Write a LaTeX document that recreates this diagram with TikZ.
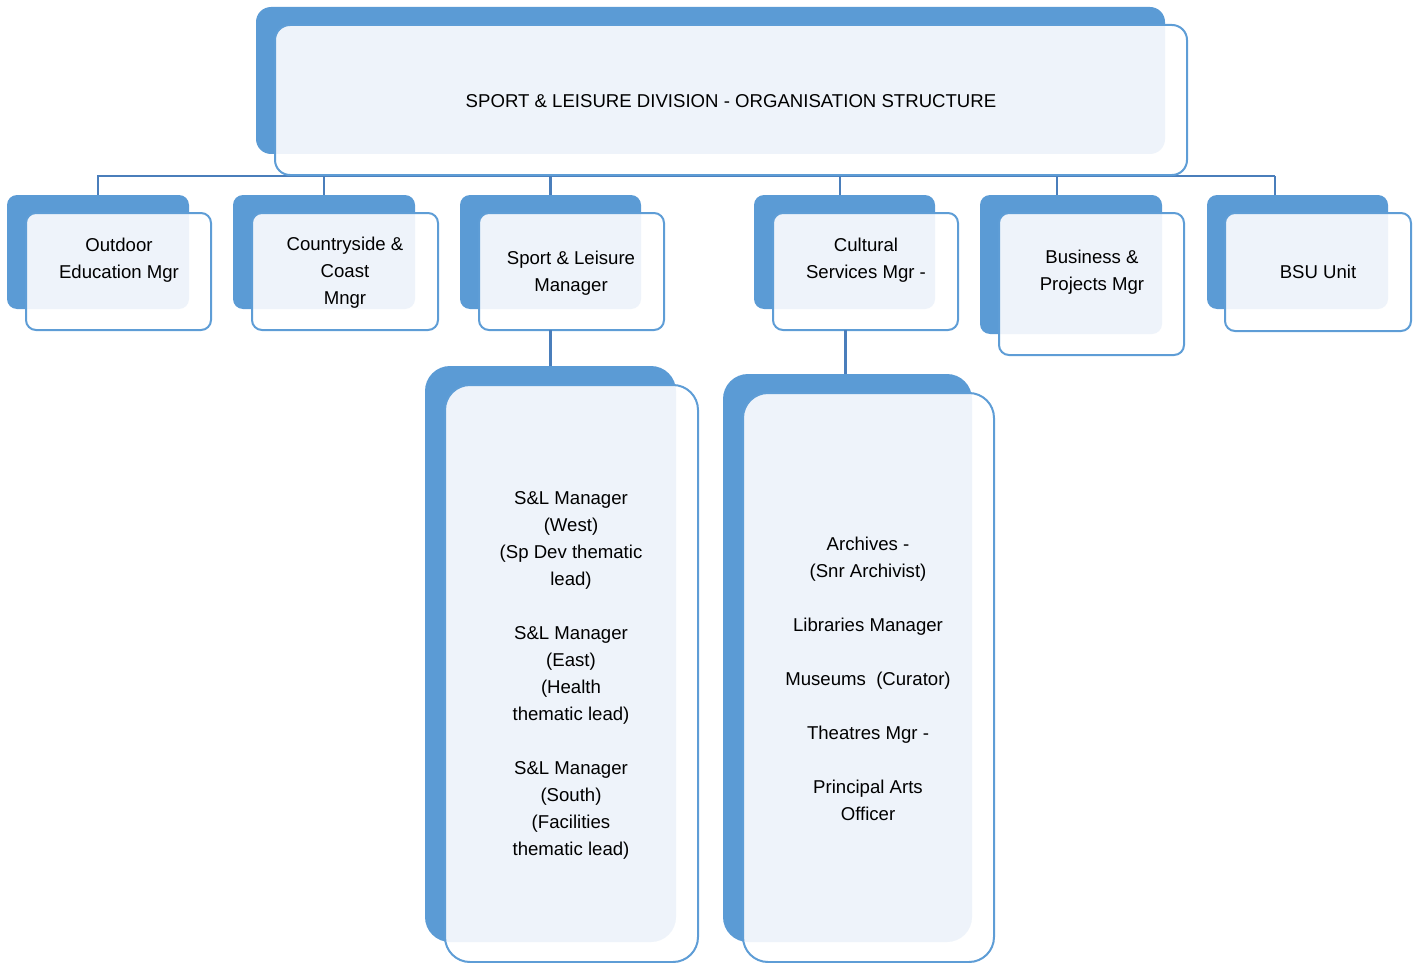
\documentclass[tikz,border=0pt]{standalone}
\usepackage{fontspec}
\setmainfont{Liberation Sans}
\usetikzlibrary{fit}
\definecolor{backc}{HTML}{5B9BD5}
\definecolor{lightc}{HTML}{EEF3FA}
\definecolor{edgec}{HTML}{5E9DD6}
\definecolor{connc}{HTML}{4A7EBB}
\newcommand\orgbox[6]{%
  \fill[backc, rounded corners=#2] #3 rectangle #4;
  \begin{scope}
    \clip[rounded corners=#2] #5 rectangle #6;
    \fill[white] #5 rectangle #6;
    \fill[lightc, rounded corners=#2] #3 rectangle #4;
  \end{scope}
  \draw[edgec, line width=2pt, rounded corners=#2] #5 rectangle #6;
  \node[fit={#3 #4}, inner sep=0pt] (#1b) {};
  \node[fit={#5 #6}, inner sep=0pt] (#1) {};
}
\begin{document}
\begin{tikzpicture}[x=1pt, y=-1pt,
  conn/.style={draw=connc, line width=2.2pt},
  lbl/.style={align=center, inner sep=0pt, text=black, font=\fontsize{18.6}{27}\selectfont}]
\useasboundingbox (0,0) rectangle (1419,963);

% connectors
\coordinate (busR) at (1275,176);
\coordinate (dcs) at (840,195);
\coordinate (dbp) at (1057,195);
\coordinate (dbsu) at (1275,195);
\coordinate (odd) at (98,195);
\draw[conn] (odd) |- (busR);
\draw[conn] (dcs) -- (dcs |- busR);
\draw[conn] (dbp) -- (dbp |- busR);
\draw[conn] (dbsu) -- (busR);

% boxes
\orgbox{title}{15}{(256,7)}{(1165,154)}{(275,25)}{(1187,175)}
\orgbox{od}{10}{(7,195)}{(189,309)}{(26,213)}{(211,330)}
\orgbox{cc}{10}{(233,195)}{(415,309)}{(252,213)}{(438,330)}
\orgbox{sl}{10}{(460,195)}{(641,309)}{(479,213)}{(664,330)}
\orgbox{cs}{10}{(754,195)}{(935,309)}{(773,213)}{(958,330)}
\orgbox{bp}{10}{(980,195)}{(1162,334)}{(999,213)}{(1184,355)}
\orgbox{bsu}{10}{(1207,195)}{(1388,309)}{(1225,213)}{(1411,331)}
\orgbox{slk}{25}{(425,366)}{(676,942)}{(445,385)}{(698,962)}
\orgbox{csk}{25}{(723,374)}{(972,942)}{(743,393)}{(994,962)}

\draw[conn] (ccb.north) -- (ccb.north |- busR);
\draw[conn] (slb.north) -- (slb.north |- busR);
\draw[conn] (slkb.north) -- (slkb.north |- sl.south);
\draw[conn] ([xshift=-2pt]cskb.north) -- ([xshift=-2pt]cskb.north |- cs.south);

% texts
\node[lbl] (titlet) at (731,101) {SPORT \& LEISURE DIVISION - ORGANISATION STRUCTURE};
\node[lbl] (odt) at (119,260) {Outdoor\\Education Mgr};
\node[lbl] (cct) at (345,273) {Countryside \&\\Coast\\Mngr};
\node[lbl] (slt) at (571,273) {Sport \& Leisure\\Manager};
\node[lbl] (cst) at (866,260) {Cultural\\Services Mgr -};
\node[lbl] (bpt) at (1092,272) {Business \&\\Projects Mgr};
\node[lbl] (bsut) at (1318,272) {BSU Unit};
\node[lbl] (slkt) at (571,675) {S\&L Manager\\(West)\\(Sp Dev thematic\\lead)\\[27pt]S\&L Manager\\(East)\\(Health\\thematic lead)\\[27pt]S\&L Manager\\(South)\\(Facilities\\thematic lead)};
\node[lbl] (cskt) at (868,679) {Archives -\\(Snr Archivist)\\[27pt]Libraries Manager\\[27pt]Museums\ \ (Curator)\\[27pt]Theatres Mgr -\\[27pt]Principal Arts\\Officer};
\end{tikzpicture}
\end{document}
